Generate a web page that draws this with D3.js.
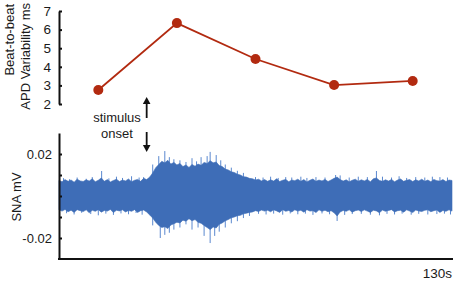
<!DOCTYPE html>
<html>
<head>
<meta charset="utf-8">
<script src="https://cdn.jsdelivr.net/npm/d3@7"></script>
<style>
  body { margin: 0; background: #fff; }
  svg text { font-family: "Liberation Sans", Arial, sans-serif; fill: #1a1a1a; }
</style>
</head>
<body>
<svg id="chart" width="454" height="281"></svg>
<script>
// APD variability, one value per 26 s window (window centres in s)
const apdWindowMid = [13, 39, 65, 91, 117];
const apdValues = [2.75, 6.35, 4.42, 3.02, 3.24];
const apdTicks = [2, 3, 4, 5, 6, 7];

const snaStep = 1;
const snaUpper = [
  .0074, .0068, .0078, .0070, .0076, .0066, .0080, .0072, .0069, .0077,
  .0071, .0082, .0068, .0075, .0086, .0070, .0078, .0067, .0074, .0080,
  .0069, .0076, .0072, .0081, .0068, .0075, .0079, .0070, .0084, .0078,
  .0090, .0110, .0135, .0150, .0165, .0158, .0170, .0152, .0160, .0148,
  .0155, .0140, .0148, .0136, .0150, .0142, .0152, .0146, .0160, .0155,
  .0168, .0158, .0162, .0145, .0140, .0128, .0124, .0115, .0112, .0104,
  .0100, .0092, .0090, .0084, .0082, .0076, .0080, .0072, .0078, .0070,
  .0077, .0071, .0082, .0069, .0075, .0079, .0068, .0076, .0073, .0080,
  .0070, .0078, .0067, .0075, .0081, .0070, .0076, .0072, .0079, .0069,
  .0076, .0084, .0090, .0078, .0071, .0077, .0068, .0075, .0080, .0070,
  .0077, .0072, .0079, .0068, .0082, .0086, .0074, .0070, .0077, .0071,
  .0079, .0068, .0076, .0081, .0070, .0075, .0078, .0069, .0077, .0072,
  .0080, .0070, .0076, .0068, .0079, .0073, .0071, .0078, .0069, .0076,
  .0074];
const snaLower = [
  -.0066, -.0072, -.0064, -.0075, -.0068, -.0078, -.0065, -.0070, -.0074, -.0066,
  -.0080, -.0068, -.0073, -.0065, -.0077, -.0069, -.0072, -.0064, -.0079, -.0068,
  -.0071, -.0066, -.0076, -.0069, -.0073, -.0065, -.0078, -.0070, -.0067, -.0076,
  -.0090, -.0105, -.0125, -.0140, -.0150, -.0146, -.0155, -.0138, -.0132, -.0125,
  -.0128, -.0115, -.0120, -.0108, -.0118, -.0112, -.0125, -.0130, -.0140, -.0150,
  -.0160, -.0148, -.0152, -.0135, -.0128, -.0118, -.0112, -.0104, -.0100, -.0094,
  -.0092, -.0085, -.0082, -.0078, -.0076, -.0070, -.0074, -.0067, -.0072, -.0068,
  -.0075, -.0066, -.0071, -.0078, -.0065, -.0073, -.0069, -.0076, -.0066, -.0072,
  -.0068, -.0077, -.0065, -.0072, -.0070, -.0079, -.0066, -.0073, -.0068, -.0075,
  -.0070, -.0080, -.0095, -.0076, -.0069, -.0073, -.0066, -.0077, -.0070, -.0067,
  -.0074, -.0066, -.0072, -.0078, -.0068, -.0071, -.0080, -.0067, -.0073, -.0069,
  -.0065, -.0076, -.0070, -.0068, -.0077, -.0066, -.0072, -.0079, -.0067, -.0071,
  -.0074, -.0068, -.0066, -.0075, -.0070, -.0067, -.0078, -.0069, -.0073, -.0066,
  -.0072];
// individual peaks poking out of the band: [time s, mV]
const snaSpikes = [
  [1.5, .0085], [3.5, .0080], [6, .0088], [9, .0082], [11, .0090], [14.1, .0119], [16.5, .0084],
  [19, .0092], [21, .0086], [24, .0094], [26.5, .0088], [28, .0090],
  [2.5, -.0082], [5, -.0088], [7.5, -.0080], [10.5, -.0086], [13, -.0092], [15.5, -.0084],
  [18, -.0090], [20.5, -.0083], [23, -.0087], [25.5, -.0081], [27.5, -.0089],
  [31, .0150], [33, .0190], [35, .0214], [36.5, .0185], [38, .0175], [40, .0170], [42, .0162],
  [44, .0180], [45.5, .0165], [47, .0185], [49, .0190], [50, .0210], [52, .0195], [53.5, .0170],
  [55, .0150], [57, .0135], [59, .0120], [61, .0110],
  [31, -.0140], [33.5, -.0200], [35, -.0185], [36.5, -.0175], [38, -.0160], [40, -.0150],
  [42, -.0135], [44, -.0160], [46, -.0150], [48, -.0190], [50, -.0224], [51.5, -.0190],
  [53, -.0170], [55, -.0150], [57, -.0130], [59, -.0120], [61, -.0105], [63, -.0095],
  [65, .0090], [67.5, .0088], [70, .0092], [72.5, .0086], [75, .0090], [77, .0088], [80, .0092],
  [82, .0086], [85, .0090], [88, .0088], [91.5, .0100], [93, .0098], [96, .0088], [99, .0092],
  [102, .0090], [105, .0119], [107, .0092], [110, .0088], [112.5, .0094], [115, .0086],
  [118, .0090], [121, .0088], [123.5, .0092], [126, .0090], [128.5, .0088],
  [66, -.0085], [68.5, -.0088], [71, -.0084], [74, -.0089], [76.5, -.0083], [79, -.0087],
  [81.5, -.0084], [84, -.0090], [87, -.0083], [89.5, -.0087], [92, -.0119], [94.5, -.0090],
  [97, -.0086], [100, -.0085], [103, -.0089], [106, -.0092], [108.5, -.0085], [111, -.0088],
  [113.5, -.0084], [116.5, -.0089], [119, -.0085], [122, -.0088], [125, -.0086],
  [127.5, -.0084], [129.5, -.0088]
];
const snaTicks = [-0.02, -0.01, 0, 0.01, 0.02];
const snaTickLabels = [-0.02, 0.02];
const stimulusTime = 29;
const endLabel = "130s";

const svg = d3.select("#chart");
const red = "#b22a10", blue = "#3e6db7", lightBlue = "#5a88cf";

// shared time scale (both panels are aligned on it)
const x = d3.scaleLinear().domain([0, 130]).range([59, 452]);

// ---- top panel: APD variability ----
const yApd = d3.scaleLinear().domain([2, 7]).range([104, 11]);

const apdAxis = svg.append("g")
  .attr("transform", "translate(59,0)")
  .call(d3.axisLeft(yApd).tickValues(apdTicks).tickFormat(d3.format("d"))
    .tickSizeInner(-3).tickSizeOuter(0).tickPadding(8));
apdAxis.select(".domain").attr("stroke", "#111").attr("stroke-width", 2);
apdAxis.selectAll(".tick line").attr("stroke", "#111").attr("stroke-width", 2);
apdAxis.selectAll(".tick text").attr("font-size", 13.5).attr("fill", "#1a1a1a")
  .attr("font-family", "Liberation Sans, Arial, sans-serif");

const apdPts = apdWindowMid.map((t, i) => [t, apdValues[i]]);
svg.append("path")
  .datum(apdPts)
  .attr("fill", "none")
  .attr("stroke", red)
  .attr("stroke-width", 1.8)
  .attr("d", d3.line().x(d => x(d[0])).y(d => yApd(d[1])));
svg.selectAll(".apd-dot")
  .data(apdPts)
  .join("circle")
  .attr("class", "apd-dot")
  .attr("cx", d => x(d[0]))
  .attr("cy", d => yApd(d[1]))
  .attr("r", 5)
  .attr("fill", red);

const apdLabel = svg.append("text")
  .attr("transform", "rotate(-90)")
  .attr("text-anchor", "end")
  .attr("font-size", 13);
apdLabel.append("tspan").attr("x", -4).attr("y", 14).text("Beat-to-beat");
apdLabel.append("tspan").attr("x", -3).attr("y", 30).text("APD Variability ms");

// ---- stimulus onset marker ----
const sx = x(stimulusTime);
svg.append("text").attr("x", 117).attr("y", 122).attr("text-anchor", "middle")
  .attr("font-size", 13).text("stimulus");
svg.append("text").attr("x", 117).attr("y", 138).attr("text-anchor", "middle")
  .attr("font-size", 13).text("onset");
const arrows = svg.append("g").attr("stroke", "#111").attr("stroke-width", 1.8).attr("fill", "#111");
arrows.append("line").attr("x1", sx).attr("x2", sx).attr("y1", 118).attr("y2", 102);
arrows.append("path").attr("stroke", "none")
  .attr("d", `M${sx},97 L${sx - 3.8},104 L${sx + 3.8},104 Z`);
arrows.append("line").attr("x1", sx).attr("x2", sx).attr("y1", 132).attr("y2", 147);
arrows.append("path").attr("stroke", "none")
  .attr("d", `M${sx},152 L${sx - 3.8},145 L${sx + 3.8},145 Z`);

// ---- bottom panel: SNA ----
const ySna = d3.scaleLinear().domain([-0.03, 0.03]).range([259, 133]);

svg.append("g")
  .selectAll("line")
  .data(snaSpikes)
  .join("line")
  .attr("x1", d => x(d[0])).attr("x2", d => x(d[0]))
  .attr("y1", ySna(0)).attr("y2", d => ySna(d[1]))
  .attr("stroke", lightBlue)
  .attr("stroke-width", 1);

const band = snaUpper.map((hi, i) => ({ t: i * snaStep, hi, lo: snaLower[i] }));
svg.append("path")
  .datum(band)
  .attr("fill", blue)
  .attr("stroke", blue)
  .attr("stroke-width", 0.6)
  .attr("d", d3.area().x(d => x(d.t)).y0(d => ySna(d.lo)).y1(d => ySna(d.hi)));

const snaAxis = svg.append("g")
  .attr("transform", "translate(59,0)")
  .call(d3.axisLeft(ySna).tickValues(snaTicks).tickSizeInner(-3).tickSizeOuter(0).tickPadding(7)
    .tickFormat(d => snaTickLabels.includes(d) ? d3.format(".2f")(d).replace("−", "-") : ""));
snaAxis.select(".domain").attr("stroke", "#111").attr("stroke-width", 2);
snaAxis.selectAll(".tick line").attr("stroke", "#111").attr("stroke-width", 2);
snaAxis.selectAll(".tick text").attr("font-size", 13).attr("fill", "#1a1a1a")
  .attr("font-family", "Liberation Sans, Arial, sans-serif");

const timeAxis = svg.append("g")
  .attr("transform", "translate(0,259)")
  .call(d3.axisBottom(x).tickValues([]).tickSizeOuter(0));
timeAxis.select(".domain").attr("stroke", "#111").attr("stroke-width", 2.2)
  .attr("d", `M58,0H${x(130) + 1}`);

svg.append("text")
  .attr("transform", "translate(21,197) rotate(-90)")
  .attr("text-anchor", "middle")
  .attr("font-size", 13)
  .text("SNA mV");

svg.append("text")
  .attr("x", x(130))
  .attr("y", 278)
  .attr("text-anchor", "end")
  .attr("font-size", 13.5)
  .text(endLabel);
</script>
</body>
</html>
